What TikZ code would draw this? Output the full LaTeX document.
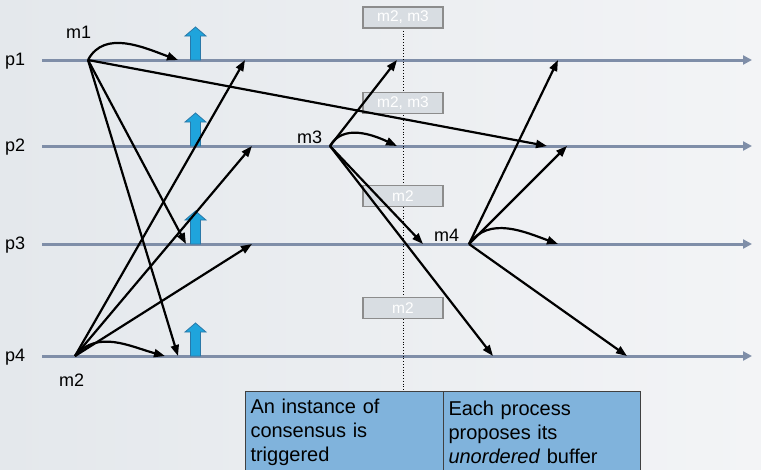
\documentclass[tikz,border=0pt]{standalone}
\usepackage{fontspec}
\setmainfont{Liberation Sans}
\usetikzlibrary{arrows.meta,positioning}
\definecolor{procline}{HTML}{7F8EA8}
\definecolor{bufblue}{HTML}{1FA4DC}
\definecolor{bufedge}{HTML}{2A78A8}
\definecolor{batchfill}{HTML}{D8DDE2}
\definecolor{batchedge}{HTML}{8C8C8C}
\definecolor{notefill}{HTML}{80B3DC}
\definecolor{bgleft}{HTML}{E4E8EC}
\definecolor{bgright}{HTML}{F3F4F6}

\begin{document}
\begin{tikzpicture}[x=1pt, y=-1pt,
  proc/.style={line width=3pt, procline, -{Triangle[length=9pt,width=9pt]}},
  msg/.style={line width=2.2pt, black, -{Triangle[length=11pt,width=8pt]}},
  plabel/.style={anchor=base west, inner sep=0pt,
    font=\fontsize{18}{22}\selectfont},
  batch/.style={
    rectangle, draw=batchedge, line width=1.5pt,
    fill=batchfill, minimum width=80pt, minimum height=21pt,
    inner sep=0pt, text=white, font=\fontsize{15.5}{18}\selectfont
  },
  note/.style={
    rectangle, draw=black!75, line width=1pt,
    fill=notefill, anchor=north west,
    text width=188pt, inner xsep=5pt, inner ysep=3pt, minimum height=82pt,
    align=left, font=\fontsize{20}{24}\selectfont
  },
  upbuf/.pic={
    \draw[fill=bufblue, draw=bufedge, line width=0.8pt]
      (-5,0) -- (-5,-24) -- (-10.5,-24) -- (0,-33) -- (10.5,-24)
      -- (5,-24) -- (5,0) -- cycle;
  }
]
\useasboundingbox (0,0) rectangle (761,469);
\fill[left color=bgleft, right color=bgright] (0,0) rectangle (761,469);

%=== PROCESS LINES ===
\coordinate (p1a) at (42,60);  \coordinate (p1b) at (752,60);
\coordinate (p2a) at (42,146); \coordinate (p2b) at (752,146);
\coordinate (p3a) at (42,244); \coordinate (p3b) at (752,244);
\coordinate (p4a) at (42,356); \coordinate (p4b) at (752,356);
\draw[proc] (p1a) -- (p1b);
\draw[proc] (p2a) -- (p2b);
\draw[proc] (p3a) -- (p3b);
\draw[proc] (p4a) -- (p4b);

\node[plabel] (p1) at (5,65)  {p1};
\node[plabel] (p2) at (5,151) {p2};
\node[plabel] (p3) at (5,249) {p3};
\node[plabel] (p4) at (5,361) {p4};

%=== CUT LINE AND BATCHES ===
\coordinate (cuttop) at (403,28);
\coordinate (cutbot) at (403,396);
\draw[dotted, line width=0.8pt] (cuttop) -- (cutbot);

\node[batch] (b1) at (403,17.5) {m2, m3};
\node[batch] (b2) at (403,103)  {m2, m3};
\node[batch] (b3) at (403,196)  {m2};
\node[batch] (b4) at (403,308)  {m2};

%=== BUFFERS ===
\pic at (195.5,60)  {upbuf};
\pic at (195.5,146) {upbuf};
\pic at (195.5,244) {upbuf};
\pic at (195.5,356) {upbuf};

%=== MESSAGE SOURCES ===
\coordinate (m1) at (88,60);
\coordinate (m2) at (75,356);
\coordinate (m3) at (330,146);
\coordinate (m4) at (469,244);

\node[plabel] (m1lab) at (66,38)  {m1};
\node[plabel] (m2lab) at (59,386) {m2};
\node[plabel] (m3lab) at (297,143) {m3};
\node[plabel] (m4lab) at (434,241) {m4};

%=== DELIVERIES ===
\coordinate (m1self) at (178,60);
\coordinate (m1p2) at (547,146);
\coordinate (m1p3) at (186,244);
\coordinate (m1p4) at (178,356);

\coordinate (m2self) at (165,356);
\coordinate (m2p1) at (245,60);
\coordinate (m2p2) at (252,146);
\coordinate (m2p3) at (252,244);

\coordinate (m3p1) at (397,60);
\coordinate (m3self) at (397,146);
\coordinate (m3p3) at (423,244);
\coordinate (m3p4) at (493,356);

\coordinate (m4p1) at (558,60);
\coordinate (m4p2) at (567,146);
\coordinate (m4self) at (558,244);
\coordinate (m4p4) at (627,356);

%=== MESSAGES ===
\draw[msg] (m1) to[out=62, in=160] (m1self);
\draw[msg] (m1) -- (m1p2);
\draw[msg] (m1) -- (m1p3);
\draw[msg] (m1) -- (m1p4);

\draw[msg] (m2) to[out=50, in=165] (m2self);
\draw[msg] (m2) -- (m2p1);
\draw[msg] (m2) -- (m2p2);
\draw[msg] (m2) -- (m2p3);

\draw[msg] (m3) to[out=60, in=155] (m3self);
\draw[msg] (m3) -- (m3p1);
\draw[msg] (m3) -- (m3p3);
\draw[msg] (m3) -- (m3p4);

\draw[msg] (m4) to[out=55, in=160] (m4self);
\draw[msg] (m4) -- (m4p1);
\draw[msg] (m4) -- (m4p2);
\draw[msg] (m4) -- (m4p4);

%=== NOTES ===
\node[note] (trigger) at (245,391)
  {An instance of\\consensus is\\triggered};
\node[note, text width=187pt] (propose) at (443,391)
  {Each process\\proposes its\\\emph{unordered} buffer};

\end{tikzpicture}
\end{document}
